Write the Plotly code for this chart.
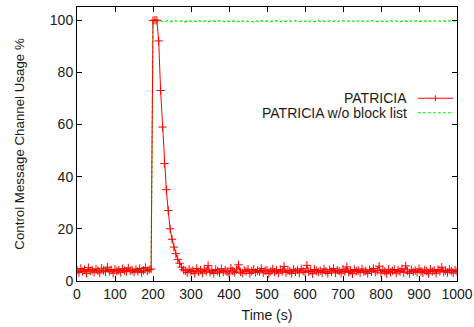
import plotly.graph_objects as go

# ---- data ----
red_pre = [4.1,3.2,4.8,3.6,4.4,2.9,5.1,3.8,4.2,3.4,4.6,3.9,3.1,4.9,4.0,3.5,5.3,3.7,4.3,3.0,
           4.5,3.8,4.1,3.3,4.7,4.0,3.6,5.0,3.9,4.2,3.4,4.4,3.7,4.8,3.2,4.1,5.2,3.8,4.3,4.6]
red_burst = [99.8,100,99.9,92,73,59,45,35,27,20,16,13,10.5,8.3,6.8,5.3,4.3]
red_post = [3.9,3.2,4.5,3.6,4.1,2.8,4.8,3.5,4.2,3.0,
            4.6,3.7,5.9,3.3,4.0,2.9,4.4,3.8,3.1,4.7,
            3.4,4.2,3.6,2.7,4.9,3.9,3.2,4.3,6.2,3.5,
            3.0,4.1,3.7,4.5,2.9,3.8,4.4,3.3,4.0,3.6,
            4.8,3.1,3.9,4.2,2.8,3.7,4.6,3.4,4.1,3.0,
            4.3,3.6,5.6,3.2,4.0,3.8,2.9,4.5,3.5,4.2,
            3.1,4.7,3.8,3.3,6.0,3.6,4.1,2.8,4.4,3.9,
            3.4,4.0,3.2,4.6,3.7,2.9,4.3,3.5,4.8,3.1,
            4.2,3.8,3.0,4.5,3.6,5.4,3.3,4.0,2.8,4.4,
            3.7,4.1,3.2,4.6,3.5,3.9,2.9,4.3,3.6,4.8,
            3.4,4.0,5.7,3.1,4.2,3.7,2.8,4.5,3.3,3.9,
            4.4,3.0,4.1,3.6,4.7,3.2,5.8,3.8,2.9,4.3,
            3.5,4.0,3.3,4.6,3.7,3.1,4.2,3.8,2.8,4.5,
            3.6,4.1,3.0,4.4,3.7,5.3,3.4,4.0,3.2,4.5,
            3.8,3.1,4.2,3.6]
green_pre = [3.8,4.5,3.3,4.9,3.6,4.2,3.0,4.7,3.9,4.4,3.2,5.2,3.7,4.1,3.4,4.8,3.9,3.1,4.6,4.0,
             3.5,4.3,5.0,3.6,4.2,3.3,4.7,3.8,4.4,3.1,4.9,3.7,4.0,4.5,3.4,4.2,3.6,5.1,3.9,4.4]
green_post = [99.5,99.7,99.4,99.6,99.8,99.5,99.3,99.6,99.7,99.4,
              99.6,99.5,99.8,99.4,99.6,99.7,99.5,99.3,99.6,99.5,
              99.7,99.4,99.6,99.5,99.8,99.6,99.4,99.5,99.7,99.3,
              99.6,99.5,99.7,99.4,99.6,99.8,99.5,99.6,99.4,99.7,
              99.5,99.3,99.6,99.7,99.5,99.4,99.8,99.6,99.5,99.7,
              99.4,99.6,99.5,99.3,99.7,99.6,99.4,99.8,99.5,99.6,
              99.7,99.5,99.4,99.6,99.5,99.8,99.6,99.3,99.7,99.5,
              99.6,99.4,99.7,99.5,99.6,99.8,99.4,99.5,99.7,99.6,
              99.5,99.6,99.3,99.7,99.5,99.4,99.6,99.8,99.5,99.7,
              99.6,99.4,99.5,99.7,99.6,99.5,99.8,99.4,99.6,99.5,
              99.7,99.6,99.4,99.5,99.8,99.6,99.5,99.3,99.7,99.6,
              99.5,99.7,99.4,99.6,99.5,99.8,99.6,99.5,99.4,99.7,
              99.6,99.5,99.7,99.4,99.6,99.8,99.5,99.6,99.7,99.5,
              99.4,99.6,99.5,99.7,99.6,99.3,99.8,99.5,99.6,99.7,
              99.5,99.6,99.4,99.7,99.5,99.8,99.6,99.5,99.7,99.6,
              99.8,99.5,99.6,99.7,99.5,99.6,99.8,99.7,99.6,99.7,
              99.8]
time_s = list(range(0, 1001, 5))
red_vals = red_pre + red_burst + red_post
green_vals = green_pre + green_post
series_names = ["PATRICIA", "PATRICIA w/o block list"]
x_ticks = list(range(0, 1001, 100))
y_ticks = [0, 20, 40, 60, 80, 100]

FONT = "Liberation Sans, Arial, sans-serif"
TXT = "#1a1a1a"

fig = go.Figure()
fig.add_trace(go.Scatter(
    x=time_s, y=green_vals, mode="lines", name=series_names[1],
    line=dict(color="#00ee00", width=1.2, dash="3px,2px"), showlegend=False))
fig.add_trace(go.Scatter(
    x=time_s, y=red_vals, mode="lines+markers", name=series_names[0],
    line=dict(color="#ff0000", width=1),
    marker=dict(symbol="cross-thin", size=6, line=dict(color="#ff0000", width=1)),
    showlegend=False))

axis_common = dict(showline=True, linecolor="black", linewidth=1, mirror="ticks",
                   ticks="inside", ticklen=5, tickcolor="black", showgrid=False,
                   zeroline=False, automargin=False,
                   tickfont=dict(size=14, color=TXT, family=FONT))
fig.update_xaxes(range=[0, 1000], tickvals=x_ticks,
                 title=dict(text="Time (s)", font=dict(size=14, color=TXT, family=FONT), standoff=9),
                 **axis_common)
fig.update_yaxes(range=[0, 105], tickvals=y_ticks,
                 title=dict(text="Control Message Channel Usage %", font=dict(size=13.3, color=TXT, family=FONT), standoff=22),
                 **axis_common)

# legend (text right, sample at the right edge)
leg_y = [0.667, 0.614]
for name, yy in zip(series_names, leg_y):
    fig.add_annotation(x=0.873, y=yy, xref="paper", yref="paper", text=name, showarrow=False,
                       xanchor="right", yanchor="middle", font=dict(size=14, color=TXT, family=FONT))
fig.add_shape(type="line", xref="paper", yref="paper", x0=0.897, x1=0.99, y0=leg_y[0], y1=leg_y[0],
              line=dict(color="#ff0000", width=1))
fig.add_shape(type="line", xref="paper", yref="paper", x0=0.943, x1=0.943, y0=leg_y[0]-0.011, y1=leg_y[0]+0.011,
              line=dict(color="#ff0000", width=1))
fig.add_shape(type="line", xref="paper", yref="paper", x0=0.897, x1=0.99, y0=leg_y[1], y1=leg_y[1],
              line=dict(color="#00ee00", width=1.2, dash="3px,2px"))

fig.update_layout(width=474, height=327, margin=dict(l=77, r=17, t=7, b=46),
                  paper_bgcolor="white", plot_bgcolor="white", font=dict(family=FONT))
fig.write_html("out.html", config={"displayModeBar": False},
               post_script="document.body.style.margin='0';")
